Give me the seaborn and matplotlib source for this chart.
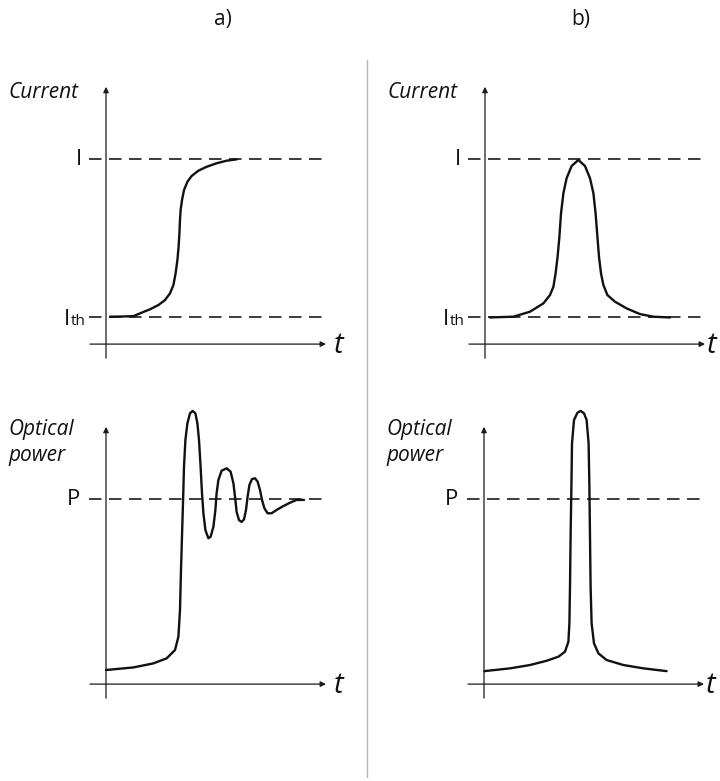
import matplotlib
matplotlib.use("Agg")
import matplotlib.pyplot as plt
from matplotlib.lines import Line2D
import pandas as pd
import seaborn as sns

# ---- curves (time in arbitrary units, level: 0 = time axis, 1 = I or P) ----
step_t = [0.2, 0.8, 1.37, 1.7, 2.2, 2.62, 2.95, 3.2, 3.37, 3.48, 3.57, 3.63, 3.67,
          3.7, 3.73, 3.8, 3.9, 4.07, 4.28, 4.62, 5.03, 5.53, 6.03, 6.53]
step_v = [0.148, 0.149, 0.151, 0.166, 0.188, 0.211, 0.238, 0.274, 0.319, 0.382,
          0.454, 0.526, 0.598, 0.670, 0.724, 0.778, 0.832, 0.877, 0.908, 0.937,
          0.958, 0.977, 0.991, 0.998]

pulse_t = [0.25, 1.42, 2.25, 2.92, 3.25, 3.42, 3.53, 3.63, 3.72, 3.8, 3.92, 4.08,
           4.33, 4.67, 5.0, 5.25, 5.42, 5.53, 5.62, 5.7, 5.8, 5.92, 6.12, 6.5,
           7.08, 7.75, 8.42, 9.25]
pulse_v = [0.144, 0.148, 0.175, 0.220, 0.265, 0.310, 0.382, 0.472, 0.580, 0.706,
           0.815, 0.896, 0.962, 0.995, 0.962, 0.896, 0.815, 0.706, 0.580, 0.472,
           0.382, 0.319, 0.265, 0.229, 0.193, 0.162, 0.148, 0.144]

osc_t = [0.0, 1.37, 2.37, 3.03, 3.45, 3.62, 3.7, 3.75, 3.8, 3.85, 3.9, 3.97, 4.07,
         4.2, 4.33, 4.47, 4.57, 4.65, 4.73, 4.8, 4.87, 4.97, 5.12, 5.23, 5.37,
         5.47, 5.53, 5.62, 5.78, 6.03, 6.23, 6.37, 6.47, 6.53, 6.65, 6.78, 6.9,
         7.0, 7.08, 7.17, 7.3, 7.45, 7.58, 7.7, 7.8, 7.92, 8.08, 8.28, 8.53,
         8.87, 9.2, 9.53, 9.9]
osc_v = [0.076, 0.09, 0.112, 0.139, 0.184, 0.256, 0.4, 0.616, 0.800, 0.980, 1.175,
         1.319, 1.409, 1.463, 1.476, 1.463, 1.409, 1.319, 1.175, 1.031, 0.923,
         0.832, 0.788, 0.796, 0.850, 0.941, 1.031, 1.103, 1.153, 1.166, 1.148,
         1.085, 0.995, 0.931, 0.886, 0.876, 0.890, 0.941, 1.012, 1.076, 1.108,
         1.112, 1.094, 1.049, 0.995, 0.950, 0.923, 0.923, 0.941, 0.962, 0.980,
         0.995, 0.995]

opt_pulse_t = [0.02, 1.3, 2.3, 3.13, 3.72, 4.05, 4.22, 4.27, 4.3, 4.33, 4.37, 4.4,
               4.5, 4.67, 4.83, 5.0, 5.13, 5.23, 5.27, 5.3, 5.33, 5.38, 5.5, 5.72,
               6.13, 6.97, 7.97, 9.13]
opt_pulse_v = [0.07, 0.085, 0.103, 0.126, 0.148, 0.175, 0.229, 0.328, 0.526, 0.796,
               1.066, 1.301, 1.427, 1.466, 1.476, 1.463, 1.427, 1.301, 1.066, 0.796,
               0.526, 0.328, 0.22, 0.166, 0.13, 0.103, 0.085, 0.07]

# reference levels
I_level = 1.0
Ith_level = 0.146
P_level = 1.0

panel_titles = ["a)", "b)"]
y_titles = ["Current", "Optical\npower"]
time_label = "t"

sns.set_theme(style="white")
plt.rcParams["font.family"] = ["Open Sans", "DejaVu Sans"]

W, H = 720, 781
fig = plt.figure(figsize=(W / 100, H / 100), dpi=100)

XLIM = (-5.0, 11.5)
YLIM = (-0.14, 1.535)
INK = "#111111"


def make_ax(left_px, top_px):
    ax = fig.add_axes([left_px / W, 1 - (top_px + 310) / H, 330 / W, 310 / H])
    ax.set_xlim(*XLIM)
    ax.set_ylim(*YLIM)
    ax.axis("off")
    return ax


def draw_axes(ax, t_pos):
    ap = dict(arrowstyle="-|>", lw=0.9, color="#1a1a1a", mutation_scale=8,
              shrinkA=0, shrinkB=0)
    ax.annotate("", xy=(11.0, 0), xytext=(-0.8, 0), arrowprops=ap)
    ax.annotate("", xy=(0, 1.39), xytext=(0, -0.076), arrowprops=ap)
    ax.text(t_pos, -0.005, time_label, fontsize=21, style="italic",
            ha="left", va="center", color=INK)


def dashed(ax, level):
    ax.hlines(level, -0.85, 11.15, colors="#1a1a1a", lw=1.2,
              linestyles=(0, (7.5, 4.5)))


def curve(ax, t, v):
    df = pd.DataFrame({"t": t, "v": v})
    sns.lineplot(data=df, x="t", y="v", ax=ax, color=INK, lw=1.7,
                 sort=False, estimator=None)
    ax.set_xlim(*XLIM)
    ax.set_ylim(*YLIM)
    ax.axis("off")


def current_labels(ax):
    ax.text(-4.9, 1.36, y_titles[0], fontsize=15, style="italic",
            ha="left", va="center", color=INK)
    ax.text(-1.2, I_level, "I", fontsize=16, ha="right", va="center", color=INK)
    ax.text(-1.8, Ith_level - 0.045, "I", fontsize=16, ha="right",
            va="baseline", color=INK)
    ax.text(-1.75, Ith_level - 0.045, "th", fontsize=11, ha="left",
            va="baseline", color=INK)


def power_labels(ax):
    ax.text(-4.9, 1.305, y_titles[1], fontsize=15, style="italic",
            ha="left", va="center", color=INK, linespacing=1.35)
    ax.text(-1.3, P_level, "P", fontsize=16, ha="right", va="center", color=INK)


# a) step in current
ax1 = make_ax(6, 60)
dashed(ax1, I_level)
dashed(ax1, Ith_level)
curve(ax1, step_t, step_v)
draw_axes(ax1, 11.4)
current_labels(ax1)

# b) current pulse
ax2 = make_ax(385, 60)
dashed(ax2, I_level)
dashed(ax2, Ith_level)
curve(ax2, pulse_t, pulse_v)
draw_axes(ax2, 11.1)
current_labels(ax2)

# a) optical response with relaxation oscillations
ax3 = make_ax(6, 400)
dashed(ax3, P_level)
curve(ax3, osc_t, osc_v)
draw_axes(ax3, 11.4)
power_labels(ax3)

# b) optical pulse
ax4 = make_ax(384, 400)
dashed(ax4, P_level)
curve(ax4, opt_pulse_t, opt_pulse_v)
draw_axes(ax4, 11.1)
power_labels(ax4)

fig.text(223 / W, 1 - 20 / H, panel_titles[0], fontsize=15, ha="center",
         va="center", color=INK)
fig.text(581 / W, 1 - 20 / H, panel_titles[1], fontsize=15, ha="center",
         va="center", color=INK)

fig.add_artist(Line2D([367 / W, 367 / W], [1 - 60 / H, 1 - 777 / H],
                      transform=fig.transFigure, color="#b5b5b5", lw=1.0))

fig.savefig("out.png", dpi=100, facecolor="white")
